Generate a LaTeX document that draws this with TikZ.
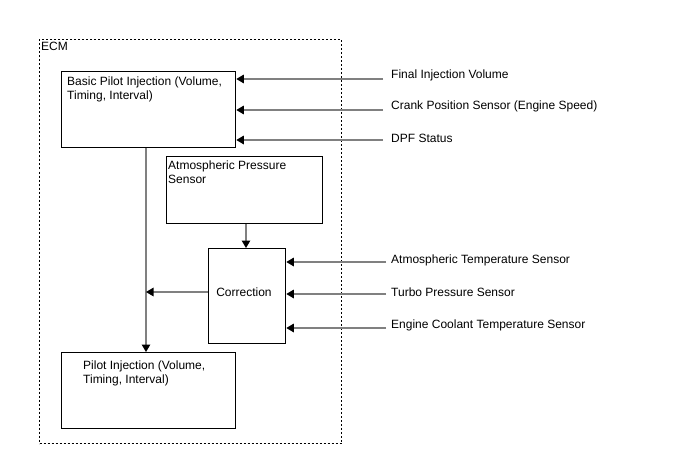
\documentclass[tikz,border=0pt]{standalone}
\usepackage{fontspec}
\setmainfont{Liberation Sans}
\usetikzlibrary{arrows.meta}
\begin{document}
\begin{tikzpicture}[x=1pt,y=-1pt,
  every node/.style={font=\fontsize{12}{13.5}\selectfont},
  box/.style={draw=black,line width=1.3pt,inner sep=0pt,anchor=north west},
  txt/.style={inner sep=0pt,align=left},
  conn/.style={draw=black!50,line width=1.3pt,-{Triangle[length=7.5pt,width=8.5pt,fill=black,color=black]}},
  ecm/.style={draw=black,line width=1pt,dash pattern=on 2pt off 2pt}]
\useasboundingbox (0,0) rectangle (688,463);
\fill[white] (0,0) rectangle (688,463);
% ECM frame
\node[box,ecm,minimum width=302pt,minimum height=404pt] (ecm) at (39,39) {};
\node[txt,anchor=north west] (ecmlbl) at (41,42) {ECM};
% boxes
\node[box,minimum width=174pt,minimum height=76pt] (basic) at (61,71) {};
\node[txt,anchor=north west] (basictxt) at (67,77) {Basic Pilot Injection (Volume,\\Timing, Interval)};
\node[box,minimum width=156pt,minimum height=67pt] (aps) at (166,156) {};
\node[txt,anchor=north west] (apstxt) at (168,161) {Atmospheric Pressure\\Sensor};
\node[box,minimum width=77pt,minimum height=95pt] (corr) at (208,248) {};
\node[txt] (corrtxt) at (244,292) {Correction};
\node[box,minimum width=174pt,minimum height=76pt] (pilot) at (61,352) {};
\node[txt,anchor=north west] (pilottxt) at (83,361) {Pilot Injection (Volume,\\Timing, Interval)};
% inputs to basic
\node[txt,anchor=west] (l1) at (391,75) {Final Injection Volume};
\node[txt,anchor=west] (l2) at (391,106) {Crank Position Sensor (Engine Speed)};
\node[txt,anchor=west] (l3) at (391,138) {DPF Status};
\coordinate (s1) at (383,79);
\coordinate (s2) at (383,110);
\coordinate (s3) at (383,140);
\draw[conn] (s1) -- (basic.east |- s1);
\draw[conn] (s2) -- (basic.east |- s2);
\draw[conn] (s3) -- (basic.east |- s3);
% inputs to correction
\node[txt,anchor=west] (l4) at (391,260) {Atmospheric Temperature Sensor};
\node[txt,anchor=west] (l5) at (391,292) {Turbo Pressure Sensor};
\node[txt,anchor=west] (l6) at (391,325) {Engine Coolant Temperature Sensor};
\coordinate (s4) at (386,262);
\coordinate (s5) at (386,294);
\coordinate (s6) at (386,328);
\draw[conn] (s4) -- (corr.east |- s4);
\draw[conn] (s5) -- (corr.east |- s5);
\draw[conn] (s6) -- (corr.east |- s6);
% internal
\coordinate (vx) at (146,147);
\draw[conn] (basic.south -| vx) -- (pilot.north -| vx);
\coordinate (aps2) at (246,223);
\draw[conn] (aps.south -| aps2) -- (corr.north -| aps2);
\coordinate (cl) at (208,292);
\draw[conn] (corr.west |- cl) -- (vx |- cl);
\end{tikzpicture}
\end{document}
